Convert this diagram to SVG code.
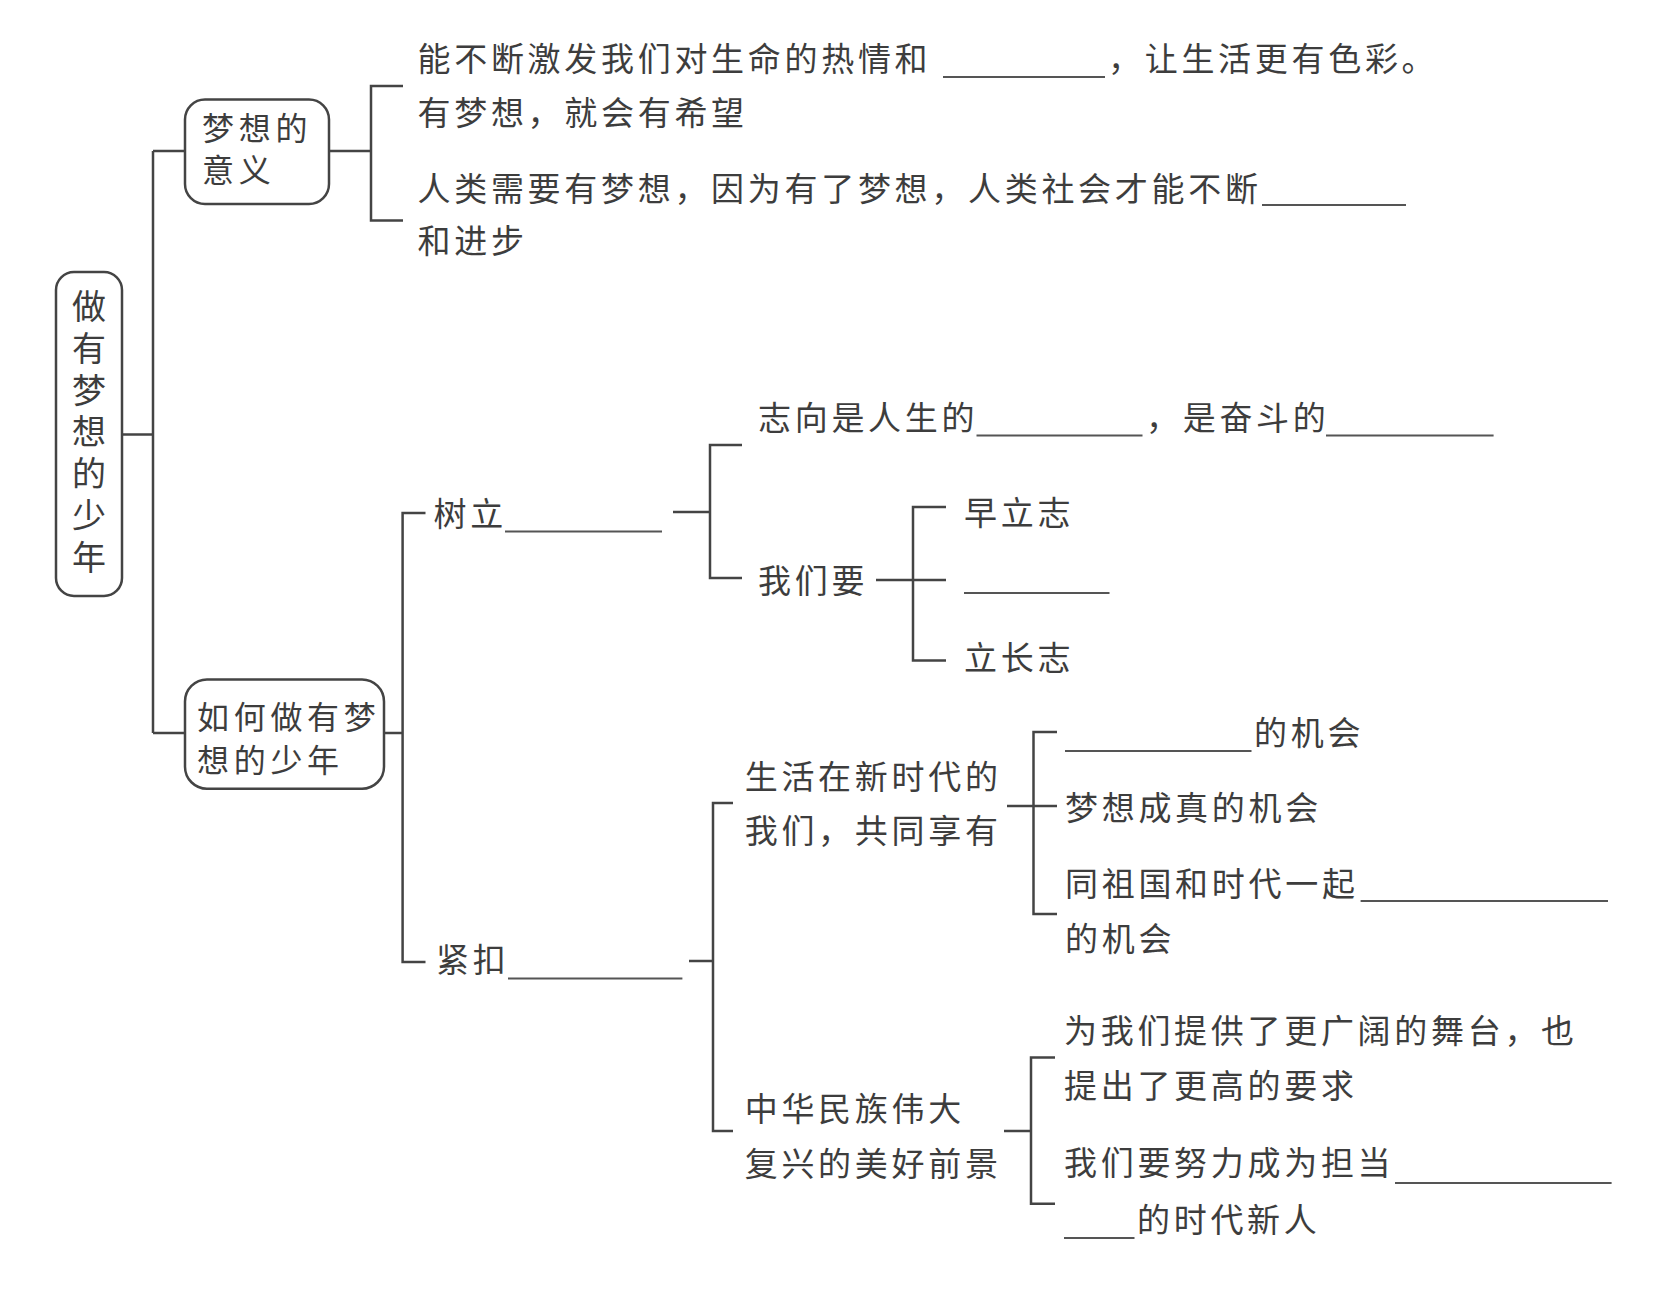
<svg xmlns="http://www.w3.org/2000/svg" width="1668" height="1309" viewBox="0 0 1668 1309">
<style>
.t{font-family:"Noto Sans CJK SC","Noto Sans CJK JP",sans-serif;font-size:33px;letter-spacing:3.7px;fill:#3d3d3d}
.b{font-size:32px;letter-spacing:4.7px}
.v{font-size:34px;letter-spacing:7.8px;writing-mode:vertical-rl}
.ln{fill:none;stroke:#444;stroke-width:2.5}
.bl{fill:none;stroke:#555;stroke-width:2}
.box{fill:#fff;stroke:#444;stroke-width:2.5}
</style>
<rect width="1668" height="1309" fill="#fff"/>
<g id="connectors">
<path class="ln" d="M122 434.5H153M153 151V733M153 151H185M153 733H185"/>
<path class="ln" d="M329 151H371M403 86H371V220.5H403"/>
<path class="ln" d="M384 733H402.6M425.5 513H402.6V962H425.5"/>
<path class="ln" d="M673 512H710M742 445H710V578H742"/>
<path class="ln" d="M876 580H946M946 507H913V660.5H946"/>
<path class="ln" d="M689 961H713M733 803H713V1131H733"/>
<path class="ln" d="M1007 806H1057M1057 732H1033.5V914H1057"/>
<path class="ln" d="M1004 1131H1031M1055 1057.6H1031V1203.8H1055"/>
</g>
<g id="root">
<rect class="box" x="56" y="272" width="66" height="324" rx="18"/>
<text class="t v" x="89" y="289">做有梦想的少年</text>
</g>
<g id="meaning">
<rect class="box" x="185" y="99.5" width="144" height="104.5" rx="20"/>
<text class="t b" x="202" y="140">梦想的</text>
<text class="t b" x="202" y="182">意义</text>
</g>
<g id="meaning-items">
<text class="t" x="417.5" y="70.5">能不断激发我们对生命的热情和</text>
<line class="bl" x1="943" y1="77" x2="1105" y2="77"/>
<text class="t" x="1108" y="70.5">，让生活更有色彩。</text>
<text class="t" x="417.5" y="124.5">有梦想，就会有希望</text>
<text class="t" x="417.5" y="201">人类需要有梦想，因为有了梦想，人类社会才能不断</text>
<line class="bl" x1="1262" y1="205" x2="1406" y2="205"/>
<text class="t" x="417.5" y="253">和进步</text>
</g>
<g id="how">
<rect class="box" x="185" y="679.4" width="199" height="109.3" rx="22"/>
<text class="t b" x="197" y="729">如何做有梦</text>
<text class="t b" x="197" y="772">想的少年</text>
</g>
<g id="shuli">
<text class="t" x="433.5" y="525.5">树立</text>
<line class="bl" x1="505" y1="531.5" x2="662" y2="531.5"/>
</g>
<g id="zhixiang">
<text class="t" x="758" y="429.5">志向是人生的</text>
<line class="bl" x1="976.5" y1="435.6" x2="1142.5" y2="435.6"/>
<text class="t" x="1146" y="429.5">，是奋斗的</text>
<line class="bl" x1="1326" y1="435.6" x2="1493.6" y2="435.6"/>
</g>
<g id="womenyao">
<text class="t" x="758" y="592.5">我们要</text>
</g>
<g id="zaolizhi"><text class="t" x="964" y="524.5">早立志</text></g>
<g id="blank-mid"><line class="bl" x1="964" y1="593" x2="1109.5" y2="593"/></g>
<g id="lichangzhi"><text class="t" x="964" y="669.5">立长志</text></g>
<g id="jinkou">
<text class="t" x="436" y="971.5">紧扣</text>
<line class="bl" x1="508" y1="978.6" x2="682.4" y2="978.6"/>
</g>
<g id="xinshidai">
<text class="t" x="744.7" y="788.5">生活在新时代的</text>
<text class="t" x="744.7" y="843.2">我们，共同享有</text>
</g>
<g id="jihui1">
<line class="bl" x1="1065" y1="751" x2="1251.5" y2="751"/>
<text class="t" x="1254" y="744.5">的机会</text>
</g>
<g id="jihui2"><text class="t" x="1065" y="820">梦想成真的机会</text></g>
<g id="jihui3">
<text class="t" x="1065" y="895.5">同祖国和时代一起</text>
<line class="bl" x1="1360.6" y1="901" x2="1608" y2="901"/>
<text class="t" x="1065" y="950.5">的机会</text>
</g>
<g id="fuxing">
<text class="t" x="744.7" y="1120.5">中华民族伟大</text>
<text class="t" x="744.7" y="1175.5">复兴的美好前景</text>
</g>
<g id="wutai">
<text class="t" x="1064" y="1042.5">为我们提供了更广阔的舞台，也</text>
<text class="t" x="1064" y="1097.5">提出了更高的要求</text>
</g>
<g id="xinren">
<text class="t" x="1064" y="1175">我们要努力成为担当</text>
<line class="bl" x1="1395" y1="1183" x2="1611.6" y2="1183"/>
<line class="bl" x1="1064" y1="1238" x2="1134.5" y2="1238"/>
<text class="t" x="1137" y="1231.5">的时代新人</text>
</g>
</svg>
